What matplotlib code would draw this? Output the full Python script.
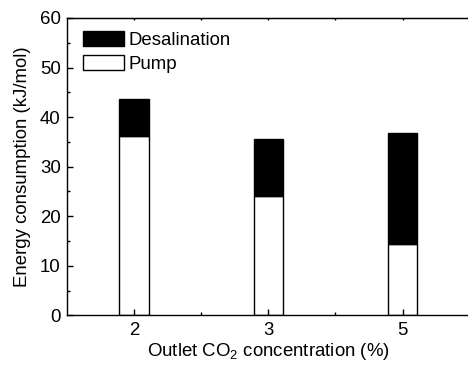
import matplotlib
matplotlib.use('Agg')
import matplotlib.pyplot as plt
from matplotlib.patches import Patch
from matplotlib.ticker import MultipleLocator, FixedLocator

plt.rcParams['font.family'] = ['Liberation Sans', 'DejaVu Sans']
plt.rcParams['mathtext.fontset'] = 'custom'
plt.rcParams['mathtext.rm'] = 'Liberation Sans'
plt.rcParams['mathtext.it'] = 'Liberation Sans'

categories = ['2', '3', '5']
pump = [36.2, 24.0, 14.3]
desalination = [7.4, 11.6, 22.4]

FS = 13.4

fig = plt.figure(figsize=(4.68, 3.67), dpi=100)
ax = fig.add_axes([67 / 468, 1 - 315.3 / 367, 402.7 / 468, 297.3 / 367])

x = range(len(categories))
ax.bar(x, pump, width=0.22, color='white', edgecolor='black', linewidth=1)
ax.bar(x, desalination, bottom=pump, width=0.22, color='black', edgecolor='black', linewidth=1)

ax.set_xlim(-0.5, 2.5)
ax.set_ylim(0, 60)
ax.set_xticks(list(x))
ax.set_xticklabels(categories)
ax.xaxis.set_minor_locator(FixedLocator([0.5, 1.5]))
ax.yaxis.set_major_locator(MultipleLocator(10))
ax.yaxis.set_minor_locator(MultipleLocator(5))
ax.tick_params(which='both', direction='in', top=False, right=False, labelsize=FS, width=1)
ax.tick_params(which='major', length=4, pad=4.5)
ax.tick_params(which='minor', length=2)
for s in ax.spines.values():
    s.set_linewidth(1)

# tiny tick marks along the top frame
top = ax.secondary_xaxis('top')
top.set_xticks([0, 0.5, 1, 1.5, 2])
top.tick_params(direction='in', length=1.2, width=1, labeltop=False)

ax.set_ylabel('Energy consumption (kJ/mol)', fontsize=FS, labelpad=6)
ax.set_xlabel('Outlet CO$_2$ concentration (%)', fontsize=FS, labelpad=2)

handles = [Patch(facecolor='black', edgecolor='black', label='Desalination'),
           Patch(facecolor='white', edgecolor='black', label='Pump')]
ax.legend(handles=handles, loc='upper left', frameon=False, fontsize=FS,
          handlelength=2.2, handleheight=0.85, handletextpad=0.25,
          labelspacing=0.35, borderaxespad=0.3, bbox_to_anchor=(0.008, 1.0))

fig.savefig('out.png', dpi=100)
